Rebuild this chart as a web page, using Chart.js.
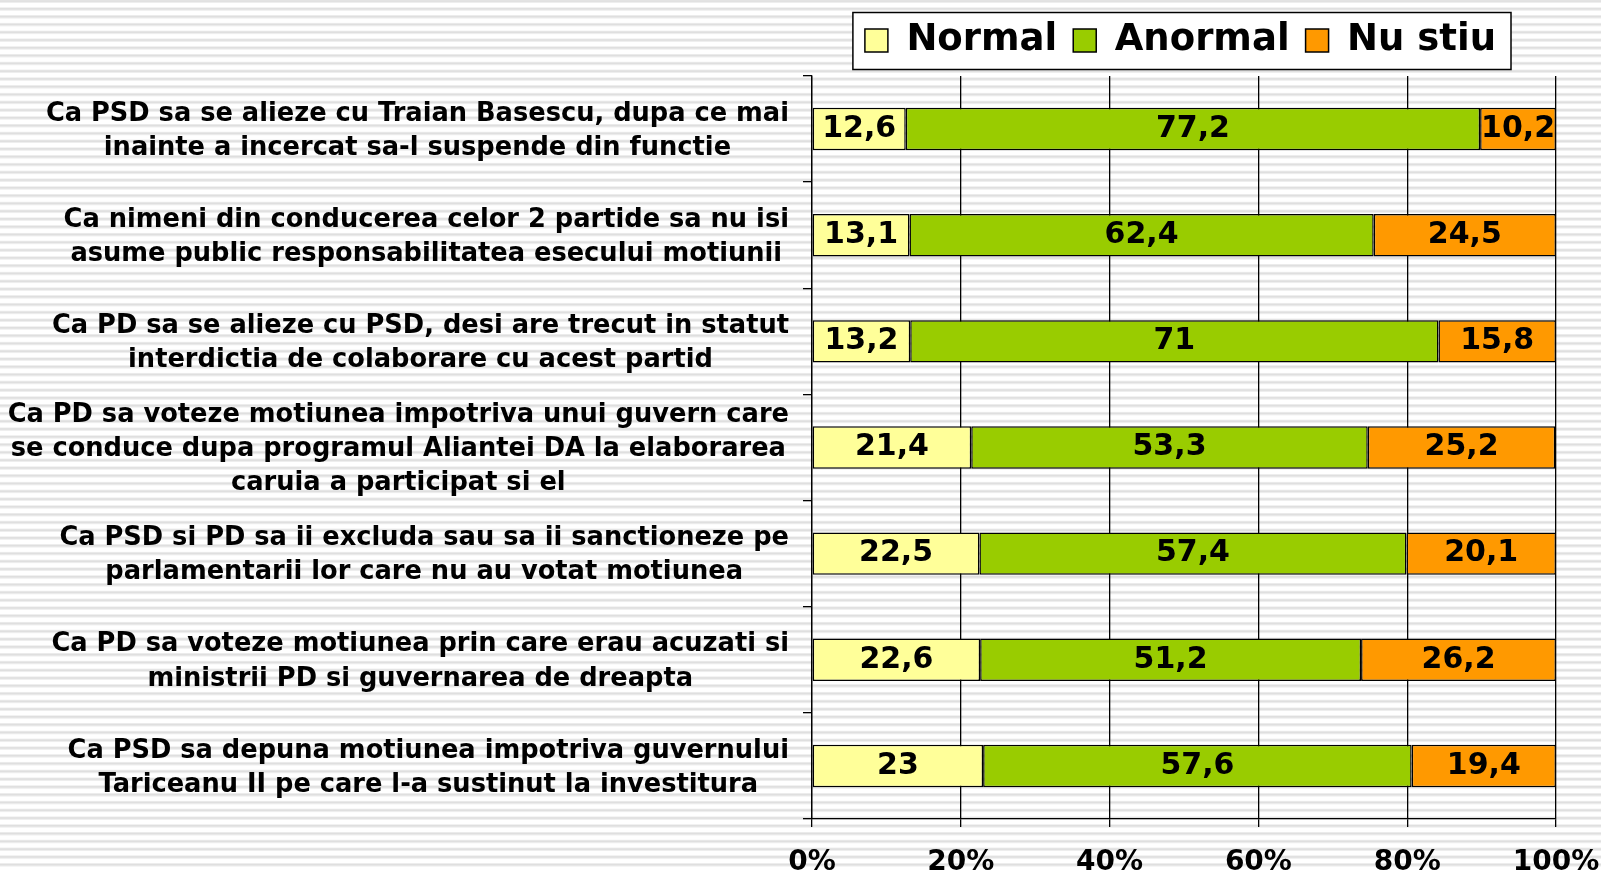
<!DOCTYPE html>
<html>
<head>
<meta charset="utf-8">
<script src="https://cdn.jsdelivr.net/npm/chart.js@4/dist/chart.umd.min.js"></script>
<style>
  html, body { margin: 0; padding: 0; background: #fff; }
  #wrap { width: 1601px; height: 870px; }
</style>
</head>
<body>
<div id="wrap"><canvas id="myChart"></canvas></div>
<script>
'use strict';

// categories, top to bottom, already split into lines like the original
const categories = [
  ['Ca PSD sa se alieze cu Traian Basescu, dupa ce mai', 'inainte a incercat sa-l suspende din functie'],
  ['Ca nimeni din conducerea celor 2 partide sa nu isi', 'asume public responsabilitatea esecului motiunii'],
  ['Ca PD sa se alieze cu PSD, desi are trecut in statut', 'interdictia de colaborare cu acest partid'],
  ['Ca PD sa voteze motiunea impotriva unui guvern care', 'se conduce dupa programul Aliantei DA la elaborarea', 'caruia a participat si el'],
  ['Ca PSD si PD sa ii excluda sau sa ii sanctioneze pe', 'parlamentarii lor care nu au votat motiunea'],
  ['Ca PD sa voteze motiunea prin care erau acuzati si', 'ministrii PD si guvernarea de dreapta'],
  ['Ca PSD sa depuna motiunea impotriva guvernului', 'Tariceanu II pe care l-a sustinut la investitura']
];
const normalValues = [12.6, 13.1, 13.2, 21.4, 22.5, 22.6, 23];
const anormalValues = [77.2, 62.4, 71, 53.3, 57.4, 51.2, 57.6];
const nuStiuValues = [10.2, 24.5, 15.8, 25.2, 20.1, 26.2, 19.4];
const seriesNames = ['Normal', 'Anormal', 'Nu stiu'];
const xTickStep = 20;

const FONT = "'DejaVu Sans', Verdana, sans-serif";
const ctx = document.getElementById('myChart');

// striped background behind everything
const stripes = {
  id: 'stripes',
  beforeDraw(chart) {
    const c = chart.ctx;
    c.save();
    c.fillStyle = '#ffffff';
    c.fillRect(0, 0, chart.width, chart.height);
    for (let y = 0; y < chart.height; y += 7.78) {
      c.fillStyle = '#eeeeee';
      c.fillRect(0, y - 0.5, chart.width, 3.5);
      c.fillStyle = '#dfdfdf';
      c.fillRect(0, y + 0.3, chart.width, 1.6);
    }
    c.restore();
  }
};

// move legend to the right spot and frame it (frame goes under the legend)
const legendBox = {
  id: 'legendBox',
  afterLayout(chart) {
    const lg = chart.legend;
    lg.right = 1512;
    lg.top -= 7;
    lg.bottom -= 7;
  },
  beforeDraw(chart) {
    const hb = chart.legend.legendHitBoxes;
    if (!hb || !hb.length) return;
    const last = hb[hb.length - 1];
    const c = chart.ctx;
    const left = hb[0].left - 12;
    const right = last.left + last.width + 15;
    const midY = hb[0].top + hb[0].height / 2;
    c.save();
    c.fillStyle = '#ffffff';
    c.fillRect(left, midY - 28, right - left, 57);
    c.strokeStyle = '#000';
    c.lineWidth = 1.5;
    c.strokeRect(left, midY - 28, right - left, 57);
    c.restore();
  }
};

// values written inside each bar segment
const barLabels = {
  id: 'barLabels',
  afterDatasetsDraw(chart) {
    const c = chart.ctx;
    c.save();
    c.font = 'bold 30px ' + FONT;
    c.fillStyle = '#000';
    c.textAlign = 'center';
    c.textBaseline = 'middle';
    chart.data.datasets.forEach((ds, i) => {
      const meta = chart.getDatasetMeta(i);
      meta.data.forEach((bar, j) => {
        const p = bar.getProps(['x', 'base', 'y'], true);
        const txt = String(ds.data[j]).replace('.', ',');
        c.fillText(txt, (p.x + p.base) / 2, p.y);
      });
    });
    c.restore();
  }
};

// category labels: each block centred on itself, blocks right aligned
const catLabels = {
  id: 'catLabels',
  afterDraw(chart) {
    const c = chart.ctx;
    const yScale = chart.scales.y;
    const rightEdge = yScale.right - 23;
    const lineH = 34.2;
    c.save();
    c.font = 'bold 25.7px ' + FONT;
    c.fillStyle = '#000';
    c.textAlign = 'center';
    c.textBaseline = 'middle';
    categories.forEach((lines, i) => {
      const yc = yScale.getPixelForValue(i);
      let maxW = 0;
      lines.forEach(l => { maxW = Math.max(maxW, c.measureText(l).width); });
      const cx = rightEdge - maxW / 2;
      lines.forEach((l, k) => {
        c.fillText(l, cx, yc + (k - (lines.length - 1) / 2) * lineH + 2);
      });
    });
    c.restore();
  }
};

function makeSet(label, data, color) {
  return {
    label: label,
    data: data,
    backgroundColor: color,
    borderColor: '#000',
    borderWidth: 1.5,
    borderSkipped: false,
    barPercentage: 0.4,
    categoryPercentage: 1
  };
}

new Chart(ctx, {
  type: 'bar',
  data: {
    labels: categories,
    datasets: [
      makeSet(seriesNames[0], normalValues, '#ffff99'),
      makeSet(seriesNames[1], anormalValues, '#99cc00'),
      makeSet(seriesNames[2], nuStiuValues, '#ff9900')
    ]
  },
  options: {
    indexAxis: 'y',
    responsive: true,
    maintainAspectRatio: false,
    animation: false,
    layout: { padding: { top: 13, right: 45, left: 0, bottom: 0 } },
    plugins: {
      tooltip: { enabled: false },
      legend: {
        position: 'top',
        align: 'end',
        labels: {
          color: '#000',
          boxWidth: 23,
          boxHeight: 23,
          padding: 16,
          font: { family: FONT, size: 37, weight: 'bold' }
        }
      }
    },
    scales: {
      x: {
        stacked: true,
        min: 0,
        max: 100,
        ticks: {
          stepSize: xTickStep,
          callback: v => v + '%',
          color: '#000',
          padding: 19,
          font: { family: FONT, size: 28, weight: 'bold' }
        },
        grid: { color: '#000', lineWidth: 1.3, tickLength: 8 },
        border: { color: '#000', width: 1.3 },
        afterFit: s => { s.height = 51; s.paddingRight = 45; }
      },
      y: {
        stacked: true,
        ticks: { display: false },
        grid: { offset: true, drawOnChartArea: false, tickLength: 9, color: '#000', lineWidth: 1.3 },
        border: { color: '#000', width: 1.3 },
        afterFit: s => { s.width = 812; }
      }
    }
  },
  plugins: [stripes, legendBox, barLabels, catLabels]
});
</script>
</body>
</html>
